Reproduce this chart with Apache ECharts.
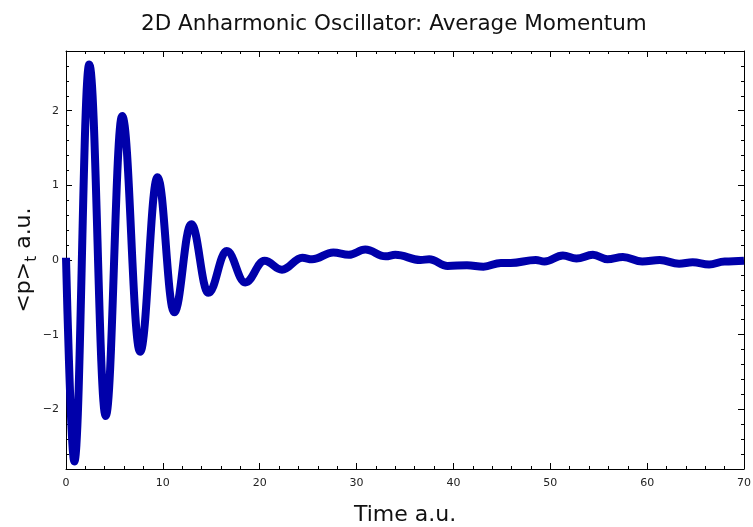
<!DOCTYPE html>
<html>
    <head>
        <meta charset="utf-8">
        <script src="https://cdn.jsdelivr.net/npm/echarts@6/dist/echarts.min.js"></script>
        <style>
            body, #main {
                margin: 0;
                width: 753px;
                height: 527px;
                background: #fff;
            }
        </style>
    </head>
    <body>
        <div id="main"></div>
        <script>
            // turning points of <p>_t (time in a.u.)
            const time = [0, 0.86, 2.4, 4.1, 5.8, 7.65, 9.45, 11.17, 12.93, 14.7,
                16.6, 18.5, 20.5, 22.3, 24.4, 25.4, 27.6, 29.2, 30.9, 33.0,
                34.0, 36.6, 37.5, 39.4, 41.4, 43.1, 44.9, 45.9, 48.5, 49.4,
                51.3, 52.7, 54.4, 55.9, 57.5, 59.5, 61.3, 63.3, 64.7, 66.4,
                68.0, 70];
            const momentum = [0.03, -2.70, 2.62, -2.09, 1.93, -1.23, 1.11, -0.70, 0.48, -0.44,
                0.12, -0.30, -0.01, -0.13, 0.03, 0.01, 0.10, 0.07, 0.14, 0.05,
                0.07, 0.0, 0.01, -0.08, -0.07, -0.09, -0.04, -0.04, 0.0, -0.02,
                0.06, 0.02, 0.07, 0.01, 0.04, -0.02, 0.0, -0.05, -0.03, -0.06,
                -0.02, -0.01];
            const xTicks = [0, 10, 20, 30, 40, 50, 60, 70];

            const chart = echarts.init(document.getElementById('main'), null, {renderer: 'canvas'});
            const font = 'DejaVu Sans';

            function fmtY(v) {
                if (Math.abs(v - Math.round(v)) > 1e-6) {
                    return '';
                }
                v = Math.round(v);
                return v < 0 ? '\u2212' + (-v) : String(v);
            }

            const line = {lineStyle: {color: '#000', width: 1}};

            function xAxis(pos) {
                return {
                    type: 'value',
                    position: pos,
                    min: xTicks[0],
                    max: xTicks[xTicks.length - 1],
                    interval: 10,
                    axisLine: Object.assign({show: true, onZero: false}, line),
                    axisTick: {inside: true, length: 6, lineStyle: {color: '#000'}},
                    minorTick: {show: true, splitNumber: 5, length: 3, lineStyle: {color: '#000'}},
                    axisLabel: {show: pos === 'bottom', fontFamily: font, fontSize: 11, color: '#222', margin: 9},
                    splitLine: {show: false}
                };
            }

            function yMajor(pos) {
                return {
                    type: 'value',
                    position: pos,
                    min: -2.8,
                    max: 2.8,
                    axisLine: Object.assign({show: true, onZero: false}, line),
                    axisTick: {inside: true, length: 6, lineStyle: {color: '#000'}},
                    axisLabel: {show: pos === 'left', fontFamily: font, fontSize: 11, color: '#222', margin: 7, formatter: fmtY},
                    splitLine: {show: false}
                };
            }

            // extra axes only for the 0.2 minor ticks
            function yMinor(pos) {
                return {
                    type: 'value',
                    position: pos,
                    min: -2.8,
                    max: 2.8,
                    interval: 0.2,
                    axisLine: {show: false, onZero: false},
                    axisTick: {inside: true, length: 3, lineStyle: {color: '#000'}},
                    axisLabel: {show: false},
                    splitLine: {show: false}
                };
            }

            const xs = [xAxis('bottom'), xAxis('top')];
            xs[0].name = 'Time a.u.';
            xs[0].nameLocation = 'middle';
            xs[0].nameGap = 35;
            xs[0].nameMoveOverlap = false;
            xs[0].nameTextStyle = {fontFamily: font, fontSize: 22, color: '#111'};

            const ys = [yMajor('left'), yMajor('right'), yMinor('left'), yMinor('right')];
            ys[0].name = '{a|<p>}{s|t}{a| a.u.}';
            ys[0].nameLocation = 'middle';
            ys[0].nameGap = 26;
            ys[0].nameMoveOverlap = false;
            ys[0].nameTextStyle = {
                rich: {
                    a: {fontFamily: font, fontSize: 22, color: '#111', lineHeight: 32},
                    s: {fontFamily: font, fontSize: 15, color: '#111', verticalAlign: 'bottom'}
                }
            };

            chart.setOption({
                animation: false,
                backgroundColor: '#fff',
                title: {
                    text: '2D Anharmonic Oscillator: Average Momentum',
                    left: 136,
                    top: 8,
                    textStyle: {fontFamily: font, fontSize: 21.5, fontWeight: 'normal', color: '#111'}
                },
                grid: {left: 66, right: 9, top: 51, bottom: 58, containLabel: false, outerBoundsMode: 'none'},
                xAxis: xs,
                yAxis: ys,
                series: [{
                    type: 'line',
                    xAxisIndex: 0,
                    yAxisIndex: 0,
                    data: time.map((t, i) => [t, momentum[i]]),
                    showSymbol: false,
                    smooth: 0.4,
                    smoothMonotone: 'x',
                    lineStyle: {color: '#0000aa', width: 8}
                }]
            });
        </script>
    </body>
</html>
